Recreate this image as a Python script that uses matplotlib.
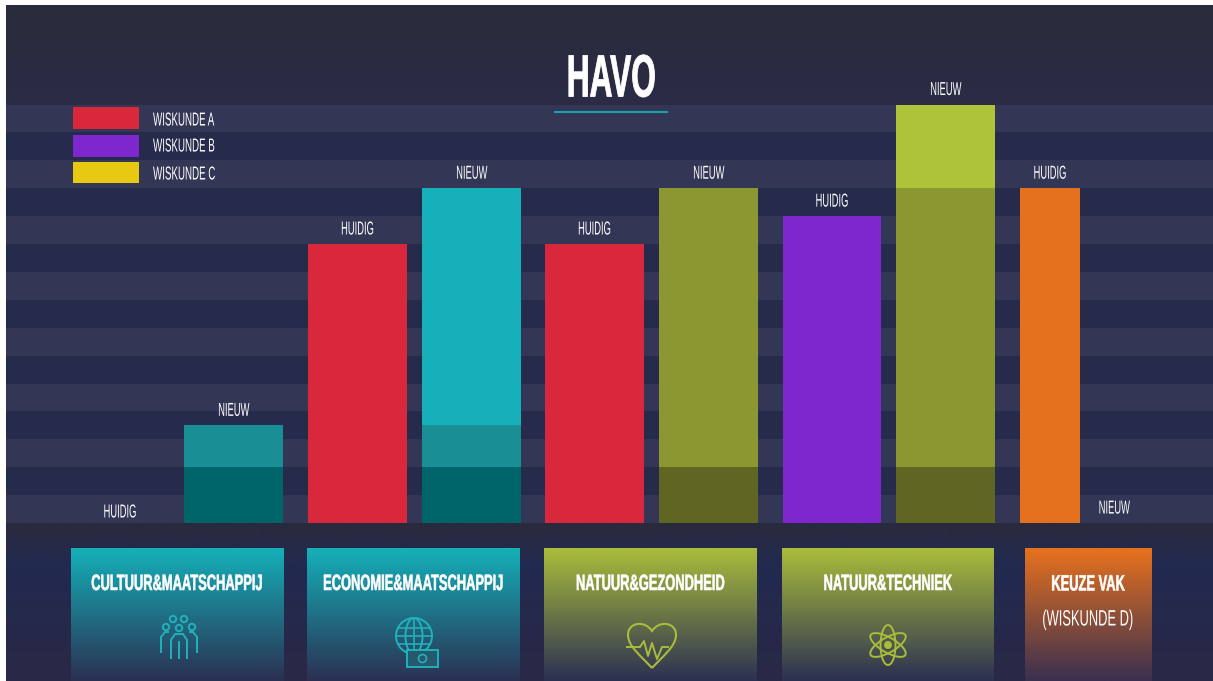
import matplotlib
matplotlib.use('Agg')
import matplotlib.pyplot as plt
import numpy as np
from matplotlib.colors import LinearSegmentedColormap
from matplotlib.patches import Rectangle, Circle, Ellipse, PathPatch
from matplotlib.path import Path
from matplotlib.patheffects import AbstractPathEffect
from matplotlib.transforms import Affine2D

plt.rcParams['font.family'] = ['Liberation Sans', 'DejaVu Sans']

W, H = 1213, 681

# bar heights, in background stripes
bar_labels = ['NIEUW', 'HUIDIG', 'NIEUW', 'HUIDIG', 'NIEUW', 'HUIDIG', 'NIEUW', 'HUIDIG']
base_vals = [2, 0, 2, 0, 2, 0, 2, 0]
mid_vals = [1.5, 0, 1.5, 0, 0, 0, 0, 0]
top_vals = [0, 10, 8.5, 10, 10, 11, 10, 12]
extra_vals = [0, 0, 0, 0, 0, 0, 3, 0]
empty_labels = ['HUIDIG', 'NIEUW']
legend_names = ['WISKUNDE A', 'WISKUNDE B', 'WISKUNDE C']
card_names = ['CULTUUR&MAATSCHAPPIJ', 'ECONOMIE&MAATSCHAPPIJ', 'NATUUR&GEZONDHEID', 'NATUUR&TECHNIEK']

# styles
bar_left = [184, 308, 422, 545, 659, 783, 896, 1020]
bar_width = [99, 99, 99, 99, 99, 98, 99, 60]
col_base = ['#00656a', None, '#00656a', None, '#5f6622', None, '#5f6622', None]
col_mid = ['#198e94', None, '#198e94', None, None, None, None, None]
col_top = [None, '#d9273c', '#15b0b9', '#d9273c', '#8b9730', '#7f27cf', '#8b9730', '#e5711e']
col_extra = '#aec23a'
RED, PURPLE, YELLOW = '#d9273c', '#7f27cf', '#e8c911'
TEAL, GREEN, ORANGE = '#15b0b9', '#aabd3b', '#e7711e'


class Narrow(AbstractPathEffect):
    # no condensed font installed, so squeeze the glyphs sideways
    def __init__(self, sx, left=False, bold=0):
        super().__init__()
        self.sx, self.left, self.bold = sx, left, bold

    def draw_path(self, renderer, gc, tpath, affine, rgbFace=None):
        box = tpath.get_extents(affine)
        cx = box.x0 if self.left else (box.x0 + box.x1) / 2
        a = affine + Affine2D().translate(-cx, 0).scale(self.sx, 1).translate(cx, 0)
        g = renderer.new_gc()
        g.copy_properties(gc)
        g.set_linewidth(self.bold)
        g.set_foreground(rgbFace)
        renderer.draw_path(g, tpath, a, rgbFace)
        g.restore()


fig = plt.figure(figsize=(W / 100, H / 100), dpi=100, facecolor='white')

# page axes in pixels, for background and decoration
bg = fig.add_axes([0, 0, 1, 1])
bg.axis('off')


def vgrad(ax, x0, x1, y0, y1, c0, c1, z=1):
    cm = LinearSegmentedColormap.from_list('g', [c0, c1])
    ax.imshow(np.linspace(0, 1, 128).reshape(-1, 1), cmap=cm, extent=[x0, x1, y1, y0],
              aspect='auto', zorder=z, interpolation='bilinear')


vgrad(bg, 6, W, 5, 106, '#2a2b3a', '#2b2c46')
vgrad(bg, 6, W, 522, 565, '#2a2a3c', '#222a50')
vgrad(bg, 6, W, 565, H, '#222a50', '#2a2846')
bg.set_xlim(0, W)
bg.set_ylim(H, 0)

# chart axes: one stripe per y unit
top_px, base_px = 104.5, 523
ax = fig.add_axes([6 / W, 1 - base_px / H, (W - 6) / W, (base_px - top_px) / H])
ax.set_xlim(6, W)
ax.set_ylim(0, 15)
ax.axis('off')
for i in range(15):
    ax.axhspan(i, i + 1, color='#333655' if i % 2 == 0 else '#262a4b', lw=0, zorder=1)

small = dict(color='white', fontsize=13.5, va='center', path_effects=[Narrow(0.5)], zorder=5)
for i in range(len(bar_left)):
    b = 0
    for vals, col in ((base_vals, col_base[i]), (mid_vals, col_mid[i]), (top_vals, col_top[i]),
                      (extra_vals, col_extra)):
        if vals[i] > 0:
            ax.bar(bar_left[i], vals[i], bar_width[i], bottom=b, align='edge', color=col, lw=0, zorder=3)
            b += vals[i]
    ax.annotate(bar_labels[i], (bar_left[i] + bar_width[i] / 2, b), xytext=(0, 14),
                textcoords='offset pixels', ha='center', annotation_clip=False, **small)
ax.text(120, 0.36, empty_labels[0], ha='center', **small)
ax.text(1114, 0.5, empty_labels[1], ha='center', **small)

# front layer for text and icons
fg = fig.add_axes([0, 0, 1, 1])
fg.axis('off')
fg.patch.set_alpha(0)

# cards
cards = [(71, 284, TEAL), (307, 520, TEAL), (544, 757, GREEN), (782, 994, GREEN)]
for (x0, x1, c), name in zip(cards, card_names):
    vgrad(fg, x0, x1, 548, H, c, '#2b3052', z=2)
    fg.text((x0 + x1) / 2, 584.5, name, ha='center', va='center', color='white', fontsize=16, fontweight='bold',
            zorder=5, path_effects=[Narrow(0.58, bold=0.4)])
vgrad(fg, 1025, 1152, 548, H, ORANGE, '#3a3050', z=2)
fg.set_xlim(0, W)
fg.set_ylim(H, 0)

# title
fg.text(611, 81, 'HAVO', ha='center', va='center', color='white', fontsize=43, fontweight='bold',
        path_effects=[Narrow(0.53, bold=0.6)])
fg.plot([555, 667], [112, 112], color='#17a5ad', lw=1.5)

# legend
for y0, y1, c, name, ty in zip((107, 135, 162), (129, 157, 183), (RED, PURPLE, YELLOW), legend_names, (121, 147, 175)):
    fg.add_patch(Rectangle((73, y0), 66, y1 - y0, color=c, lw=0))
    fg.text(153, ty, name, ha='left', va='center', color='white', fontsize=13.5, path_effects=[Narrow(0.52, left=True)])

fg.text(1088, 585, 'KEUZE VAK', ha='center', va='center', color='white', fontsize=16, fontweight='bold', zorder=5,
        path_effects=[Narrow(0.58, bold=0.4)])
fg.text(1088, 620, '(WISKUNDE D)', ha='center', va='center', color='white', fontsize=16, zorder=5,
        path_effects=[Narrow(0.58)])

# icons
ic = dict(fill=False, lw=1.4, zorder=6)
c = '#1fb2ba'
# people
for cx, cy in ((173, 619), (184, 619), (166, 627), (179, 628), (192, 627)):
    fg.add_patch(Circle((cx, cy), 3.2, ec=c, **ic))
fg.plot([171, 171, 175, 183, 187, 187], [658, 640, 634, 634, 640, 658], color=c, lw=1.4, zorder=6)
fg.plot([179, 179], [642, 658], color=c, lw=1.4, zorder=6)
fg.plot([161, 161, 165, 168], [652, 637, 632, 632], color=c, lw=1.4, zorder=6)
fg.plot([197, 197, 193, 190], [652, 637, 632, 632], color=c, lw=1.4, zorder=6)
# globe and note
gx, gy = 414, 636
fg.add_patch(Circle((gx, gy), 18, ec=c, **ic))
fg.add_patch(Ellipse((gx, gy), 17, 36, ec=c, **ic))
fg.plot([gx, gx], [gy - 18, gy + 18], color=c, lw=1.2, zorder=6)
for dy, hw in ((-8, 16), (0, 18), (8, 16)):
    fg.plot([gx - hw, gx + hw], [gy + dy, gy + dy], color=c, lw=1.2, zorder=6)
fg.add_patch(Rectangle((407, 650), 31, 17, fc='#26586e', ec=c, lw=1.4, zorder=7))
fg.add_patch(Circle((422.5, 658.5), 4, ec=c, fill=False, lw=1.2, zorder=8))
# heart with pulse
g = '#a9bc3c'
heart = Path([(652, 668), (640, 655), (628, 646), (628, 635), (628, 622), (645, 620), (652, 631),
              (659, 620), (676, 622), (676, 635), (676, 646), (664, 655), (652, 668)],
             [Path.MOVETO] + [Path.CURVE4] * 12)
fg.add_patch(PathPatch(heart, fc='none', ec=g, lw=1.5, zorder=6))
fg.plot([627, 640, 644, 648, 652, 657, 662, 668], [647, 647, 641, 656, 643, 659, 647, 647], color=g, lw=1.4, zorder=6)
# atom
ax0, ay0 = 888, 645
for ang in (0, 60, 120):
    fg.add_patch(Ellipse((ax0, ay0), 15, 40, angle=ang, ec=g, **ic))
fg.add_patch(Circle((ax0, ay0), 4, fc=g, ec='none', zorder=7))
fg.set_xlim(0, W)
fg.set_ylim(H, 0)

# white margin of the screenshot
fg.add_patch(Rectangle((0, 0), W, 5, color='white', lw=0, zorder=20))
fg.add_patch(Rectangle((0, 0), 6, H, color='white', lw=0, zorder=20))

fig.savefig('out.png', dpi=100, facecolor='white')
